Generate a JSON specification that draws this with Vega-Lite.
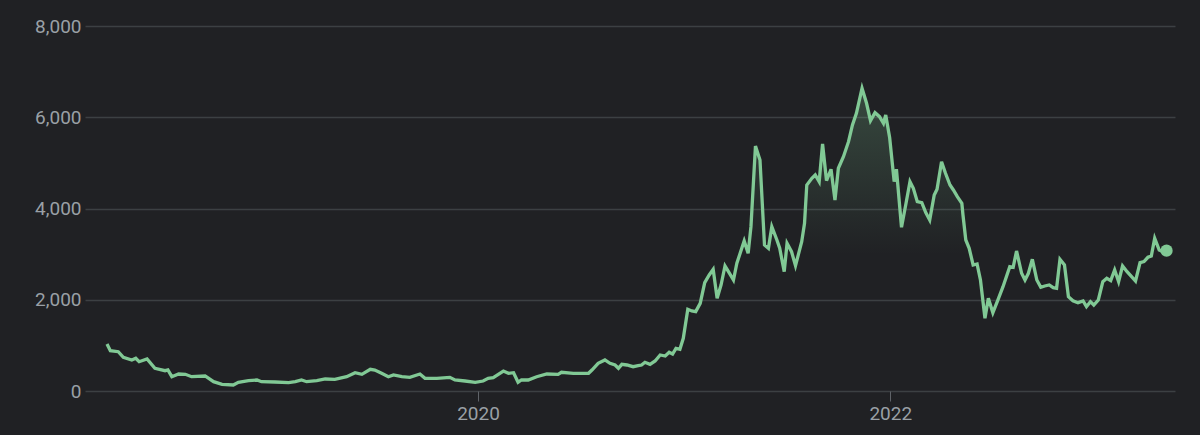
{
  "$schema": "https://vega.github.io/schema/vega-lite/v6.json",
  "width": 1090,
  "height": 365,
  "autosize": {"type": "none"},
  "padding": {"left": 85, "top": 26, "right": 25, "bottom": 44},
  "background": "#202124",
  "config": {
    "view": {"stroke": null},
    "axis": {"labelFont": "Roboto", "labelColor": "#9aa0a6", "labelFontSize": 19, "title": null}
  },
  "data": {"values": [
    {"date": "2018-03-14", "price": 1030},
    {"date": "2018-03-20", "price": 883},
    {"date": "2018-04-03", "price": 861},
    {"date": "2018-04-12", "price": 739},
    {"date": "2018-04-27", "price": 680},
    {"date": "2018-05-04", "price": 717},
    {"date": "2018-05-10", "price": 642},
    {"date": "2018-05-24", "price": 701},
    {"date": "2018-06-07", "price": 498},
    {"date": "2018-06-25", "price": 445},
    {"date": "2018-06-30", "price": 460},
    {"date": "2018-07-07", "price": 314},
    {"date": "2018-07-19", "price": 373},
    {"date": "2018-07-31", "price": 366},
    {"date": "2018-08-11", "price": 314},
    {"date": "2018-09-04", "price": 329},
    {"date": "2018-09-19", "price": 204},
    {"date": "2018-10-04", "price": 147},
    {"date": "2018-10-24", "price": 132},
    {"date": "2018-11-02", "price": 191},
    {"date": "2018-11-20", "price": 226},
    {"date": "2018-12-05", "price": 241},
    {"date": "2018-12-13", "price": 204},
    {"date": "2019-01-06", "price": 197},
    {"date": "2019-01-30", "price": 182},
    {"date": "2019-02-11", "price": 204},
    {"date": "2019-02-22", "price": 241},
    {"date": "2019-03-03", "price": 204},
    {"date": "2019-03-21", "price": 226},
    {"date": "2019-04-05", "price": 263},
    {"date": "2019-04-22", "price": 256},
    {"date": "2019-05-13", "price": 313},
    {"date": "2019-05-28", "price": 401},
    {"date": "2019-06-09", "price": 366},
    {"date": "2019-06-24", "price": 476},
    {"date": "2019-07-02", "price": 460},
    {"date": "2019-07-14", "price": 388},
    {"date": "2019-07-26", "price": 313},
    {"date": "2019-08-04", "price": 351},
    {"date": "2019-08-19", "price": 313},
    {"date": "2019-09-02", "price": 300},
    {"date": "2019-09-20", "price": 373},
    {"date": "2019-09-29", "price": 278},
    {"date": "2019-10-20", "price": 278},
    {"date": "2019-11-12", "price": 300},
    {"date": "2019-11-21", "price": 241},
    {"date": "2019-12-09", "price": 219},
    {"date": "2019-12-27", "price": 191},
    {"date": "2020-01-10", "price": 219},
    {"date": "2020-01-19", "price": 278},
    {"date": "2020-01-28", "price": 292},
    {"date": "2020-02-06", "price": 366},
    {"date": "2020-02-15", "price": 438},
    {"date": "2020-02-24", "price": 388},
    {"date": "2020-03-04", "price": 401},
    {"date": "2020-03-12", "price": 191},
    {"date": "2020-03-18", "price": 241},
    {"date": "2020-03-30", "price": 241},
    {"date": "2020-04-14", "price": 313},
    {"date": "2020-05-02", "price": 373},
    {"date": "2020-05-22", "price": 366},
    {"date": "2020-05-28", "price": 410},
    {"date": "2020-06-18", "price": 388},
    {"date": "2020-07-15", "price": 388},
    {"date": "2020-07-21", "price": 460},
    {"date": "2020-08-01", "price": 607},
    {"date": "2020-08-13", "price": 680},
    {"date": "2020-08-22", "price": 607},
    {"date": "2020-08-31", "price": 570},
    {"date": "2020-09-06", "price": 498},
    {"date": "2020-09-12", "price": 585},
    {"date": "2020-09-21", "price": 570},
    {"date": "2020-10-02", "price": 533},
    {"date": "2020-10-11", "price": 555},
    {"date": "2020-10-17", "price": 570},
    {"date": "2020-10-23", "price": 629},
    {"date": "2020-11-01", "price": 585},
    {"date": "2020-11-10", "price": 658},
    {"date": "2020-11-19", "price": 789},
    {"date": "2020-11-28", "price": 767},
    {"date": "2020-12-05", "price": 848},
    {"date": "2020-12-11", "price": 811},
    {"date": "2020-12-17", "price": 936},
    {"date": "2020-12-24", "price": 914},
    {"date": "2020-12-30", "price": 1155},
    {"date": "2021-01-07", "price": 1791},
    {"date": "2021-01-14", "price": 1754},
    {"date": "2021-01-21", "price": 1739},
    {"date": "2021-01-29", "price": 1922},
    {"date": "2021-02-06", "price": 2374},
    {"date": "2021-02-14", "price": 2543},
    {"date": "2021-02-21", "price": 2667},
    {"date": "2021-02-28", "price": 2032},
    {"date": "2021-03-07", "price": 2324},
    {"date": "2021-03-14", "price": 2740},
    {"date": "2021-03-22", "price": 2580},
    {"date": "2021-03-29", "price": 2433},
    {"date": "2021-04-04", "price": 2800},
    {"date": "2021-04-17", "price": 3290},
    {"date": "2021-04-24", "price": 3018},
    {"date": "2021-04-29", "price": 3601},
    {"date": "2021-05-07", "price": 5370},
    {"date": "2021-05-15", "price": 5063},
    {"date": "2021-05-23", "price": 3200},
    {"date": "2021-05-30", "price": 3128},
    {"date": "2021-06-05", "price": 3601},
    {"date": "2021-06-14", "price": 3310},
    {"date": "2021-06-19", "price": 3128},
    {"date": "2021-06-27", "price": 2615},
    {"date": "2021-07-02", "price": 3237},
    {"date": "2021-07-10", "price": 3053},
    {"date": "2021-07-17", "price": 2747},
    {"date": "2021-07-28", "price": 3273},
    {"date": "2021-08-02", "price": 3676},
    {"date": "2021-08-06", "price": 4515},
    {"date": "2021-08-15", "price": 4662},
    {"date": "2021-08-21", "price": 4735},
    {"date": "2021-08-28", "price": 4588},
    {"date": "2021-09-03", "price": 5414},
    {"date": "2021-09-10", "price": 4610},
    {"date": "2021-09-18", "price": 4860},
    {"date": "2021-09-25", "price": 4187},
    {"date": "2021-10-01", "price": 4882},
    {"date": "2021-10-10", "price": 5136},
    {"date": "2021-10-19", "price": 5465},
    {"date": "2021-10-26", "price": 5831},
    {"date": "2021-11-02", "price": 6087},
    {"date": "2021-11-12", "price": 6635},
    {"date": "2021-11-20", "price": 6306},
    {"date": "2021-11-27", "price": 5925},
    {"date": "2021-12-05", "price": 6100},
    {"date": "2021-12-13", "price": 6013},
    {"date": "2021-12-20", "price": 5868},
    {"date": "2021-12-24", "price": 6050},
    {"date": "2021-12-31", "price": 5550},
    {"date": "2022-01-08", "price": 4588},
    {"date": "2022-01-12", "price": 4860},
    {"date": "2022-01-21", "price": 3588},
    {"date": "2022-01-29", "price": 4114},
    {"date": "2022-02-05", "price": 4588},
    {"date": "2022-02-11", "price": 4443},
    {"date": "2022-02-18", "price": 4150},
    {"date": "2022-02-26", "price": 4128},
    {"date": "2022-03-05", "price": 3909},
    {"date": "2022-03-12", "price": 3748},
    {"date": "2022-03-20", "price": 4296},
    {"date": "2022-03-25", "price": 4421},
    {"date": "2022-04-02", "price": 5026},
    {"date": "2022-04-09", "price": 4772},
    {"date": "2022-04-17", "price": 4515},
    {"date": "2022-04-23", "price": 4406},
    {"date": "2022-04-30", "price": 4259},
    {"date": "2022-05-08", "price": 4114},
    {"date": "2022-05-10", "price": 3858},
    {"date": "2022-05-15", "price": 3310},
    {"date": "2022-05-21", "price": 3128},
    {"date": "2022-05-28", "price": 2762},
    {"date": "2022-06-04", "price": 2784},
    {"date": "2022-06-10", "price": 2433},
    {"date": "2022-06-18", "price": 1594},
    {"date": "2022-06-24", "price": 2032},
    {"date": "2022-07-02", "price": 1716},
    {"date": "2022-07-11", "price": 1995},
    {"date": "2022-07-20", "price": 2286},
    {"date": "2022-08-01", "price": 2725},
    {"date": "2022-08-07", "price": 2711},
    {"date": "2022-08-13", "price": 3069},
    {"date": "2022-08-22", "price": 2580},
    {"date": "2022-08-28", "price": 2433},
    {"date": "2022-09-03", "price": 2580},
    {"date": "2022-09-10", "price": 2887},
    {"date": "2022-09-18", "price": 2433},
    {"date": "2022-09-25", "price": 2273},
    {"date": "2022-10-02", "price": 2302},
    {"date": "2022-10-10", "price": 2324},
    {"date": "2022-10-17", "price": 2265},
    {"date": "2022-10-23", "price": 2251},
    {"date": "2022-10-29", "price": 2887},
    {"date": "2022-11-06", "price": 2762},
    {"date": "2022-11-13", "price": 2067},
    {"date": "2022-11-21", "price": 1979},
    {"date": "2022-11-30", "price": 1936},
    {"date": "2022-12-09", "price": 1973},
    {"date": "2022-12-15", "price": 1848},
    {"date": "2022-12-22", "price": 1958},
    {"date": "2022-12-28", "price": 1885},
    {"date": "2023-01-05", "price": 1995},
    {"date": "2023-01-13", "price": 2396},
    {"date": "2023-01-20", "price": 2470},
    {"date": "2023-01-27", "price": 2418},
    {"date": "2023-02-03", "price": 2652},
    {"date": "2023-02-10", "price": 2396},
    {"date": "2023-02-17", "price": 2740},
    {"date": "2023-02-25", "price": 2615},
    {"date": "2023-03-05", "price": 2506},
    {"date": "2023-03-12", "price": 2411},
    {"date": "2023-03-20", "price": 2812},
    {"date": "2023-03-27", "price": 2835},
    {"date": "2023-04-03", "price": 2931},
    {"date": "2023-04-09", "price": 2959},
    {"date": "2023-04-15", "price": 3347},
    {"date": "2023-04-23", "price": 3091},
    {"date": "2023-04-30", "price": 3053},
    {"date": "2023-05-06", "price": 3075}
  ]},
  "encoding": {
    "x": {
      "field": "date", "type": "temporal",
      "scale": {"type": "utc", "domain": [1517616000000, 1684627200000]},
      "axis": {
        "values": [1577836800000, 1640995200000], "format": "%Y", "formatType": "utc",
        "grid": false, "domain": false, "ticks": true, "tickSize": 10, "tickColor": "#5f6368", "tickWidth": 1,
        "labelPadding": 3, "labelFontSize": 19
      }
    },
    "y": {
      "field": "price", "type": "quantitative",
      "scale": {"domain": [0, 8000], "nice": false, "zero": true},
      "axis": {
        "values": [0, 2000, 4000, 6000, 8000], "format": ",.0f",
        "grid": true, "gridColor": "#3c4043", "gridWidth": 1.5,
        "domain": false, "ticks": false, "labelPadding": 4
      }
    }
  },
  "layer": [
    {
      "mark": {
        "type": "area",
        "color": {
          "gradient": "linear", "x1": 0, "y1": 0, "x2": 0, "y2": 1,
          "stops": [
            {"offset": 0, "color": "rgba(129,201,149,0.24)"},
            {"offset": 0.55, "color": "rgba(129,201,149,0)"},
            {"offset": 1, "color": "rgba(129,201,149,0)"}
          ]
        }
      }
    },
    {
      "mark": {"type": "line", "color": "#81c995", "strokeWidth": 3.3}
    },
    {
      "data": {"values": [{"date": "2023-05-06", "price": 3075}]},
      "mark": {"type": "circle", "color": "#81c995", "opacity": 1, "size": 150}
    }
  ]
}
